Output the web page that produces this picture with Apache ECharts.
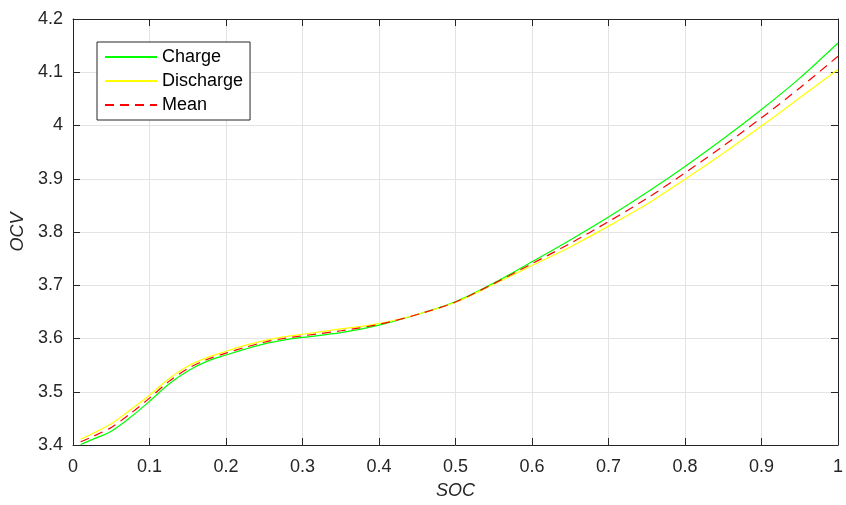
<!DOCTYPE html>
<html>
<head>
<meta charset="utf-8">
<script src="https://cdn.jsdelivr.net/npm/echarts@6/dist/echarts.min.js"></script>
<style>
  html, body { margin: 0; padding: 0; background: #ffffff; }
  #chart { width: 846px; height: 505px; }
</style>
</head>
<body>
<div id="chart"></div>
<script>
// State of charge sample points
const socValues = [0.01, 0.025, 0.05, 0.075, 0.1, 0.125, 0.15, 0.175, 0.2, 0.225, 0.25, 0.275, 0.3,
                   0.35, 0.4, 0.45, 0.5, 0.55, 0.6, 0.65, 0.7, 0.75, 0.8, 0.85, 0.9, 0.95, 1.0];

// Open-circuit voltage (V) along the charge curve
const chargeOcv = [3.401, 3.410, 3.426, 3.452, 3.482, 3.514, 3.539, 3.557, 3.569, 3.580, 3.590, 3.597, 3.602,
                   3.611, 3.625, 3.645, 3.669, 3.704, 3.744, 3.785, 3.828, 3.874, 3.923, 3.975, 4.030, 4.089, 4.155];

// Open-circuit voltage (V) along the discharge curve
const dischargeOcv = [3.411, 3.421, 3.440, 3.466, 3.4935, 3.524, 3.548, 3.564, 3.576, 3.587, 3.596, 3.603, 3.608,
                      3.618, 3.628, 3.645, 3.668, 3.702, 3.737, 3.772, 3.811, 3.852, 3.899, 3.948, 3.999, 4.052, 4.105];

// Mean open-circuit voltage (V)
const meanOcv = [3.406, 3.4155, 3.433, 3.459, 3.488, 3.519, 3.5435, 3.5605, 3.5725, 3.5835, 3.593, 3.600, 3.605,
                 3.6145, 3.6265, 3.645, 3.6685, 3.703, 3.7405, 3.7785, 3.8195, 3.863, 3.911, 3.9615, 4.0145, 4.0705, 4.130];

const seriesNames = ['Charge', 'Discharge', 'Mean'];

const axisColor = '#262626';
const gridColor = '#e3e3e3';
const fontFamily = '"Liberation Sans", Arial, Helvetica, sans-serif';
const fontSize = 18;

function pairs(xs, ys) {
  return xs.map((x, i) => [x, ys[i]]);
}

const chart = echarts.init(document.getElementById('chart'), null, { renderer: 'canvas' });

const xBase = {
  type: 'value', min: 0, max: 1, interval: 0.1,
  axisLine: { show: true, onZero: false, lineStyle: { color: axisColor, width: 1 } },
  axisTick: { show: true, inside: true, length: 7, lineStyle: { color: axisColor } }
};
const yBase = {
  type: 'value', min: 3.4, max: 4.2, interval: 0.1,
  axisLine: { show: true, onZero: false, lineStyle: { color: axisColor, width: 1 } },
  axisTick: { show: true, inside: true, length: 7, lineStyle: { color: axisColor } }
};

const tickText = v => String(Math.round(v * 10) / 10);

function curve(name, values, color, extraLine, z) {
  return {
    name: name, type: 'line', data: pairs(socValues, values),
    smooth: 0.3, symbol: 'none', xAxisIndex: 0, yAxisIndex: 0,
    lineStyle: Object.assign({ color: color, width: 1.2 }, extraLine),
    itemStyle: { color: color }, z: z
  };
}

chart.setOption({
  animation: false,
  backgroundColor: '#ffffff',
  textStyle: { fontFamily: fontFamily },
  grid: { left: 73, top: 19, right: 7, bottom: 58, containLabel: false },
  legend: {
    data: seriesNames,
    orient: 'vertical',
    left: 97,
    top: 42,
    backgroundColor: '#ffffff',
    borderColor: axisColor,
    borderWidth: 1,
    borderRadius: 0,
    padding: [6, 7, 6, 7],
    itemWidth: 52,
    itemHeight: 17,
    itemGap: 6,
    itemStyle: { opacity: 0 },
    textStyle: { fontFamily: fontFamily, fontSize: fontSize, color: '#000000' }
  },
  xAxis: [
    Object.assign({}, xBase, {
      position: 'bottom',
      name: 'SOC',
      nameLocation: 'middle',
      nameGap: 37,
      nameTextStyle: { fontFamily: fontFamily, fontSize: fontSize, fontStyle: 'italic', color: axisColor },
      axisLabel: { show: true, margin: 13, color: axisColor, fontFamily: fontFamily, fontSize: fontSize, formatter: tickText },
      splitLine: { show: true, lineStyle: { color: gridColor, width: 1 } }
    }),
    Object.assign({}, xBase, {
      position: 'top',
      axisLabel: { show: false },
      splitLine: { show: false }
    })
  ],
  yAxis: [
    Object.assign({}, yBase, {
      position: 'left',
      name: 'OCV',
      nameLocation: 'middle',
      nameGap: 46,
      nameTextStyle: { fontFamily: fontFamily, fontSize: fontSize, fontStyle: 'italic', color: axisColor },
      axisLabel: { show: true, margin: 10, color: axisColor, fontFamily: fontFamily, fontSize: fontSize, formatter: tickText },
      splitLine: { show: true, lineStyle: { color: gridColor, width: 1 } }
    }),
    Object.assign({}, yBase, {
      position: 'right',
      axisLabel: { show: false },
      splitLine: { show: false }
    })
  ],
  series: [
    curve(seriesNames[0], chargeOcv, '#00ff00', {}, 3),
    curve(seriesNames[1], dischargeOcv, '#ffff00', {}, 4),
    curve(seriesNames[2], meanOcv, '#ff0000', { type: [9, 6] }, 5)
  ]
});
</script>
</body>
</html>
